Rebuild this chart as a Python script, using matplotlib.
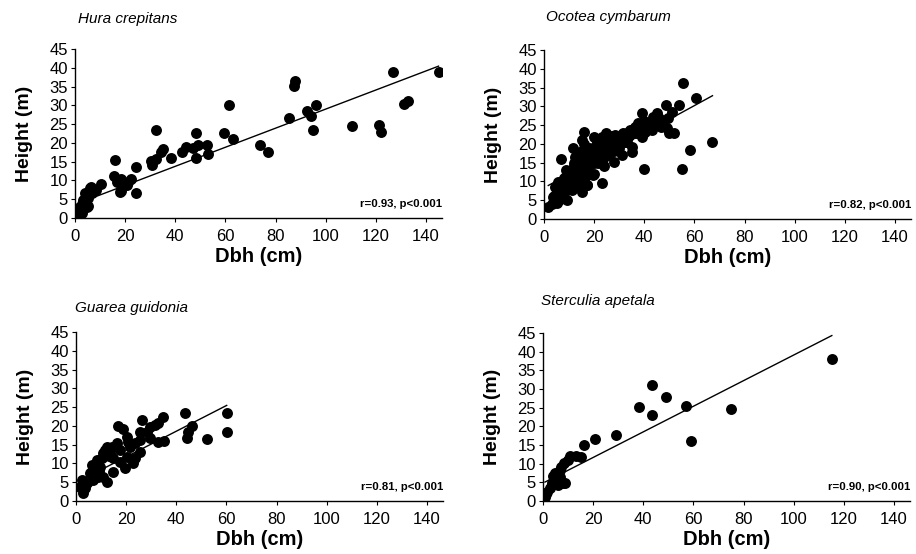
import numpy as np
import matplotlib
matplotlib.use("Agg")
import matplotlib.pyplot as plt

plt.rcParams["font.family"] = ["Liberation Sans", "DejaVu Sans"]

# Hura crepitans
hura_dbh = [145, 126.7, 87.7, 87.2, 96.2, 92.5, 94.1, 94.9, 85.5, 131.1, 133.0,
            121.3, 121.9, 110.5, 73.6, 77.1, 61.4, 63.2, 59.3, 48.2, 49.0, 52.7,
            53.2, 48.4, 47.1, 44.1, 42.6, 38.2, 35.2, 34.5, 32.2, 32.5, 30.7,
            30.5, 24.5, 24.3, 15.9, 15.7, 16.6, 18.3, 18.2, 20.6, 22.2, 10.2,
            8.4, 6.2, 4.0, 5.3, 4.4, 5.3, 2.0, 1.1, 0.7, 6.6, 3.3, 2.7, 1.3,
            2.7, 4.6, 17.9, 19.2, 21.2, 6.0]
hura_h = [39.0, 39.0, 36.6, 35.1, 30.1, 28.6, 27.1, 23.5, 26.5, 30.3, 31.2,
          24.7, 23.0, 24.4, 19.5, 17.5, 30.1, 21.0, 22.6, 22.6, 19.5, 19.4,
          17.0, 16.0, 18.6, 18.8, 17.6, 16.1, 18.5, 17.7, 23.5, 15.7, 14.2,
          15.1, 13.6, 6.7, 15.5, 11.1, 9.6, 10.5, 7.1, 8.9, 10.5, 9.1,
          7.5, 8.2, 6.7, 5.3, 4.0, 3.3, 2.9, 1.8, 0.9, 6.7, 4.9, 3.8, 2.6,
          1.2, 3.0, 7.0, 9.7, 9.7, 7.9]

# Ocotea cymbarum
ocotea_dbh = [55.6, 60.6, 54.0, 48.5, 50.9, 39.0, 45.0, 49.3, 48.9, 50.0, 52.0,
              66.9, 58.4, 54.9, 40.0, 23.3, 6.8, 16.1, 20.1, 11.4, 15.0, 24.6,
              28.3, 31.6, 35.2, 35.0, 28.1, 31.0, 36.3, 37.6, 39.0, 41.6, 43.0,
              40.3, 37.0, 34.3, 27.3, 32.3, 26.3, 23.0, 23.7, 20.3, 21.7, 19.7,
              17.0, 15.0, 11.0, 9.0, 5.1, 1.7, 3.7, 5.7, 7.0, 9.7, 8.9, 12.4,
              13.7, 16.4, 17.7, 19.7, 21.0, 12.4, 15.0, 17.7, 16.4, 11.0, 7.7,
              4.4, 13.7, 19.0, 23.0, 29.7, 43.6, 14.5, 18.5, 22.0, 10.5, 12.0,
              14.0, 16.0, 18.0, 20.0, 6.0, 8.0, 10.0, 25.0, 33.0, 38.0, 46.5,
              3, 4, 5, 6, 6, 7, 8, 8, 9, 10, 10, 11, 12, 12, 13, 13, 14, 14,
              15, 16, 16, 17, 18, 18, 19, 20, 21, 22, 22, 24, 25, 26, 27, 29,
              30, 32, 33, 34, 36, 38, 40, 42, 44, 46, 47, 26, 28, 24, 20, 17, 15]
ocotea_h = [36.1, 32.1, 30.3, 30.3, 28.6, 28.3, 28.3, 26.8, 24.1, 22.8, 22.8,
            20.6, 18.5, 13.2, 13.2, 9.5, 16.1, 23.2, 21.9, 19.0, 21.0, 22.8,
            22.4, 22.8, 17.9, 19.3, 15.3, 17.0, 24.6, 25.5, 21.9, 25.0, 23.7,
            23.2, 22.8, 23.7, 20.6, 20.6, 17.9, 19.3, 16.1, 17.0, 14.8, 11.7,
            9.1, 7.3, 7.7, 5.1, 4.2, 3.3, 5.9, 9.9, 8.6, 10.4, 13.0, 13.0,
            14.8, 16.1, 18.4, 18.8, 20.6, 16.6, 13.0, 13.0, 11.3, 11.3, 6.8,
            8.6, 10.4, 14.8, 21.9, 19.7, 27.2, 17.5, 15.5, 18.0, 11.0, 14.0,
            15.0, 13.5, 12.0, 16.5, 6.5, 9.5, 9.0, 21.0, 20.5, 23.5, 24.5,
            4, 6, 7, 5, 9, 10, 7, 11, 9, 12, 8, 13, 10, 15, 12, 17, 9, 16,
            18, 14, 20, 16, 12, 19, 17, 15, 18, 16, 20, 19, 21, 20, 22, 21,
            19, 21, 23, 22, 23, 24, 26, 24, 26, 27, 25, 17, 18, 14, 12, 9, 11]

# Guarea guidonia
guarea_dbh = [60.1, 60.1, 52.1, 43.5, 46.1, 44.8, 44.1, 34.8, 35.2, 32.8, 31.5,
              32.8, 29.5, 26.2, 25.5, 25.5, 23.5, 25.5, 21.5, 20.9, 16.9, 18.9,
              19.5, 22.9, 23.5, 20.2, 16.2, 14.2, 12.2, 14.9, 12.2, 17.6, 10.2,
              10.9, 8.2, 7.6, 9.6, 10.9, 6.9, 5.6, 4.3, 2.3, 1.6, 2.9, 3.6,
              13.6, 14.9, 17.6, 8.9, 6.2, 28.2, 29.5, 20.2, 11.5, 13.0, 9.0]
guarea_h = [23.3, 18.5, 16.4, 23.5, 20.0, 18.5, 16.9, 22.4, 16.0, 15.8, 20.2,
            20.7, 19.8, 21.6, 18.5, 16.2, 15.4, 13.1, 14.5, 15.8, 20.0, 19.3,
            8.7, 10.0, 11.4, 11.8, 15.4, 14.5, 14.5, 7.8, 5.1, 10.5, 11.4,
            12.7, 10.9, 8.3, 9.1, 6.5, 5.6, 7.4, 4.7, 5.6, 3.8, 2.0, 3.4,
            12.7, 11.4, 13.6, 6.5, 9.6, 18.5, 16.7, 17.1, 13.5, 12.0, 8.0]

# Sterculia apetala
sterculia_dbh = [115.2, 75.0, 59.0, 57.1, 49.1, 43.4, 43.3, 38.2, 29.2, 20.8,
                 16.2, 15.0, 13.0, 10.6, 8.2, 7.3, 6.6, 4.0, 5.3, 8.0, 6.0, 2.7,
                 1.6, 0.7, 1.1, 4.6, 6.6, 10.1, 3.5, 8.8]
sterculia_h = [38.1, 24.6, 16.0, 25.4, 27.8, 31.1, 23.1, 25.2, 17.6, 16.5,
               14.9, 11.8, 12.1, 12.1, 10.1, 9.2, 8.3, 6.7, 5.6, 4.7, 4.3, 3.4,
               2.5, 1.2, 1.9, 7.4, 6.5, 10.9, 4.7, 4.7]

species = ["Hura crepitans", "Ocotea cymbarum", "Guarea guidonia", "Sterculia apetala"]
dbh_data = [hura_dbh, ocotea_dbh, guarea_dbh, sterculia_dbh]
height_data = [hura_h, ocotea_h, guarea_h, sterculia_h]
# fitted line: intercept, slope, x range
fit_intercept = [3.6, 8.3, 4.9, 4.8]
fit_slope = [0.254, 0.365, 0.342, 0.343]
fit_xrange = [(5, 145), (1.7, 67.2), (1.6, 60.1), (0.8, 115.2)]
stats = ["r=0.93, p<0.001", "r=0.82, p<0.001", "r=0.81, p<0.001", "r=0.90, p<0.001"]

W, H = 916, 554
# axes boxes in pixels: left, top(y=45), bottom(y=0)
boxes = [(75, 49, 218), (544, 50, 219), (76, 332, 501), (543, 333, 501)]
title_pos = [(78, 19), (546, 17), (75, 308), (541, 301)]
xmax = 146.5
px_per_unit = 351 / 140

fig = plt.figure(figsize=(W / 100, H / 100), dpi=100)

for i in range(4):
    left, top, bottom = boxes[i]
    width = xmax * px_per_unit
    ax = fig.add_axes([left / W, 1 - bottom / H, width / W, (bottom - top) / H])
    ax.scatter(dbh_data[i], height_data[i], s=62, color="black", zorder=3,
               linewidths=0)
    xs = np.array(fit_xrange[i])
    ax.plot(xs, fit_intercept[i] + fit_slope[i] * xs, color="black", lw=1.0,
            zorder=2)
    ax.set_xlim(0, xmax)
    ax.set_ylim(0, 45)
    ax.set_xticks(np.arange(0, 141, 20))
    ax.set_yticks(np.arange(0, 46, 5))
    for s in ["top", "right"]:
        ax.spines[s].set_visible(False)
    for s in ["left", "bottom"]:
        ax.spines[s].set_linewidth(1.0)
    ax.tick_params(axis="both", direction="out", length=3, width=0.8,
                   labelsize=12, pad=2)
    ax.tick_params(axis="x", pad=5)
    ax.set_xlabel("Dbh (cm)", fontsize=14.5, fontweight="bold", labelpad=2)
    ax.set_ylabel("Height (m)", fontsize=14, fontweight="bold", labelpad=12)
    ax.text(xmax, 3.7, stats[i], fontsize=8.2, fontweight="bold",
            ha="right", va="center")
    tx, ty = title_pos[i]
    fig.text(tx / W, 1 - ty / H, species[i], fontsize=11, style="italic",
             ha="left", va="center")

fig.savefig("out.png", dpi=100)
